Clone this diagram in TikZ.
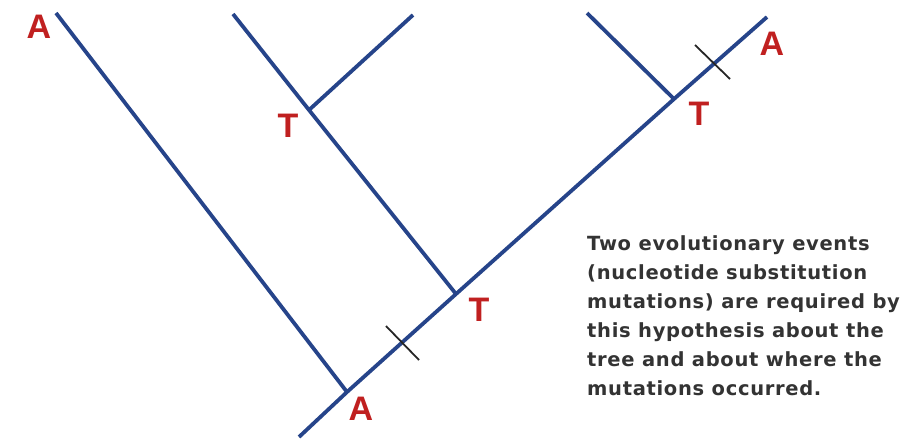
\documentclass[tikz,border=0pt]{standalone}
\usepackage{fontspec}
\setmainfont{DejaVu Sans}
\newfontfamily\labfont{Liberation Sans}
\newfontfamily\notefont[LetterSpace=3.5]{DejaVu Sans}
\definecolor{branch}{RGB}{38,68,138}
\definecolor{labred}{RGB}{192,32,32}
\begin{document}
\begin{tikzpicture}[x=1pt,y=-1pt,
  br/.style={draw=branch,line width=3.8pt},
  tick/.style={draw=black!85,line width=1.8pt},
  lab/.style={text=labred,font=\labfont\fontsize{34}{34}\selectfont\bfseries,inner sep=0pt},
  note/.style={font=\notefont\bfseries\fontsize{19.5}{29}\selectfont,align=left,inner sep=0pt,anchor=north west,text=black!80}]
\useasboundingbox (0,0) rectangle (920,442);
% coordinates
\coordinate (root) at (299,437);
\coordinate (nA) at (347,392);
\coordinate (nT1) at (456,294);
\coordinate (nT3) at (674,99);
\coordinate (tipR) at (767,17);
\coordinate (tipL) at (56,13);
\coordinate (tipM) at (233,14);
\coordinate (nT2) at (309,110);
\coordinate (tipS) at (413,15);
\coordinate (tipR2) at (587,13);
% branches
\draw[br] (root) -- (nA) -- (nT1) -- (nT3) -- (tipR);
\draw[br] (nA) -- (tipL);
\draw[br] (nT1) -- (nT2) -- (tipM);
\draw[br] (nT2) -- (tipS);
\draw[br] (nT3) -- (tipR2);
% ticks
\coordinate (t1a) at (386,326);
\coordinate (t1b) at (419,360);
\coordinate (t2a) at (695,45);
\coordinate (t2b) at (730,79);
\draw[tick] (t1a) -- (t1b);
\draw[tick] (t2a) -- (t2b);
% labels
\node[lab] (lA1) at (39,27) {A};
\node[lab] (lT2) at (288,126) {T};
\node[lab] (lT1) at (479,310) {T};
\node[lab] (lA2) at (361,409) {A};
\node[lab] (lT3) at (699,114) {T};
\node[lab] (lA3) at (772,44) {A};
\node[note] (txt) at (587,235) {Two evolutionary events\\(nucleotide substitution\\mutations) are required by\\this hypothesis about the\\tree and about where the\\mutations occurred.};
\end{tikzpicture}
\end{document}
